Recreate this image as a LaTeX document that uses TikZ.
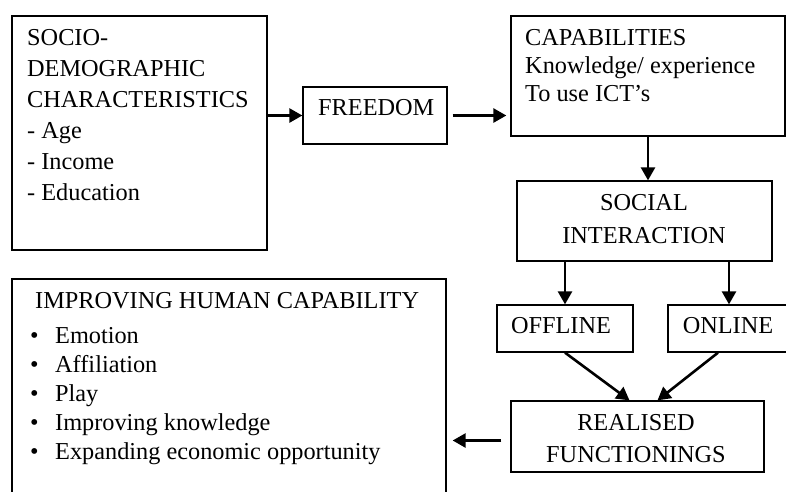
\documentclass[tikz,border=0pt]{standalone}
\usepackage{fontspec}
\setmainfont{Liberation Serif}
\usetikzlibrary{calc}
\usetikzlibrary{arrows.meta}

\newcommand{\puce}{\makebox[25pt][l]{\textbullet}}

\tikzset{
  boite/.style={draw, line width=1.3pt, inner sep=0pt},
  texte/.style={inner sep=0pt, align=left, anchor=base west, font=\fontsize{24.3}{31}\selectfont},
  fleche/.style={-{Triangle[length=13pt,width=14pt]}, line width=2.6pt}
}

\begin{document}
\begin{tikzpicture}[x=1pt,y=-1pt]
    \useasboundingbox (0,0) rectangle (786,491);
    % Les boites
    \node[boite, minimum width=255pt, minimum height=234pt] (socio) at (139.5,133) {};
    \node[boite, minimum width=144pt, minimum height=57pt] (freedom) at (375,115.5) {};
    \node[boite, minimum width=274pt, minimum height=120pt] (capab) at (648,76) {};
    \node[boite, minimum width=255pt, minimum height=80pt] (social) at (644.5,221) {};
    \node[boite, minimum width=136pt, minimum height=47pt] (offline) at (565,328.5) {};
    \node[boite, minimum width=122pt, minimum height=47pt] (online) at (729,328.5) {};
    \node[boite, minimum width=253pt, minimum height=71pt] (realised) at (637.5,436.5) {};
    \node[boite, minimum width=434pt, minimum height=230pt] (improving) at (229,394) {};
    % Les textes (ancre sur la ligne de base de la derniere ligne)
    \node[texte] (t-socio) at (27,200) {SOCIO-\\DEMOGRAPHIC\\CHARACTERISTICS\\- Age\\- Income\\- Education};
    \node[texte] (t-freedom) at (318,115) {FREEDOM};
    \node[texte, font=\fontsize{24.3}{28}\selectfont] (t-capab) at (525,101) {CAPABILITIES\\Knowledge/ experience\\To use ICT's};
    \node[texte, align=center, anchor=base, font=\fontsize{24.3}{33}\selectfont] (t-social) at (644,243) {SOCIAL\\INTERACTION};
    \node[texte, anchor=base] (t-offline) at (561,333) {OFFLINE};
    \node[texte, anchor=base] (t-online) at (728,333) {ONLINE};
    \node[texte, align=center, anchor=base, font=\fontsize{24.3}{32}\selectfont] (t-realised) at (636,462) {REALISED\\FUNCTIONINGS};
    \node[texte] (t-improving) at (35,308) {IMPROVING HUMAN CAPABILITY};
    \node[texte, font=\fontsize{24.3}{29}\selectfont] (t-liste) at (30,459) {\puce Emotion\\\puce Affiliation\\\puce Play\\\puce Improving knowledge\\\puce Expanding economic opportunity};
    % Les fleches
    \draw[fleche] (socio.east |- freedom.west) -- (freedom.west);
    \draw[fleche, shorten <=5pt, shorten >=4pt] (freedom.east) -- (freedom.east -| capab.west);
    \draw[fleche] (capab.south) -- (capab.south |- social.north);
    \draw[fleche] (offline.north |- social.south) -- (offline.north);
    \draw[fleche] (online.north |- social.south) -- (online.north);
    \draw[fleche] (offline.south) -- ([xshift=-8pt]realised.north);
    \draw[fleche] ([xshift=-11pt]online.south) -- ([xshift=20pt]realised.north);
    \draw[fleche, shorten <=9pt, shorten >=6pt] ([yshift=-4pt]realised.west) -- ([yshift=-4pt]realised.west -| improving.east);
\end{tikzpicture}
\end{document}
